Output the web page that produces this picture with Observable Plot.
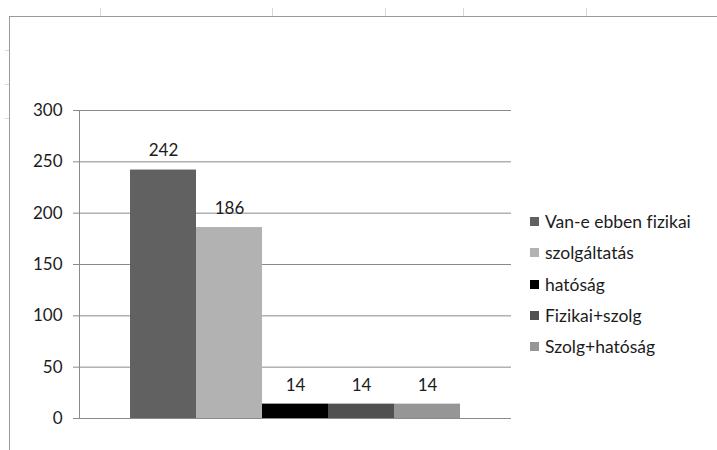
<!DOCTYPE html>
<html>
<head>
<meta charset="utf-8">
<script src="https://cdn.jsdelivr.net/npm/d3@7"></script>
<script src="https://cdn.jsdelivr.net/npm/@observablehq/plot@0.6"></script>
<style>
  html, body { margin: 0; padding: 0; background: #fff; }
  #wrap { position: relative; width: 717px; height: 450px; overflow: hidden; font-family: Lato, "Open Sans", sans-serif; font-variant-ligatures: none; }
  #frame { position: absolute; left: 9px; top: 16px; right: -2px; bottom: -2px; border-left: 1px solid #9a9a9a; border-top: 1px solid #9a9a9a; }
  .cell { position: absolute; top: 8px; width: 1px; height: 8px; background: #d4d8e4; }
  .rowm { position: absolute; left: 5px; width: 4px; height: 1px; background: #d4d8e4; }
  #legend { position: absolute; left: 530px; top: 206px; font-size: 17.5px; color: #1c1c1c; }
  #legend .item { height: 31.25px; display: flex; align-items: center; }
  #legend .sw { width: 9px; height: 9px; margin-right: 6px; }
  #chart { position: absolute; left: 0; top: 0; }
  #chart svg text { font-variant-ligatures: none; }
</style>
</head>
<body>
<div id="wrap">
  <div id="frame"></div>
  <div class="cell" style="left:100px"></div>
  <div class="cell" style="left:272px"></div>
  <div class="cell" style="left:385px"></div>
  <div class="cell" style="left:463px"></div>
  <div class="cell" style="left:586px"></div>
  <div class="rowm" style="top:50px"></div>
  <div class="rowm" style="top:84px"></div>
  <div class="rowm" style="top:118px"></div>
  <div id="chart"></div>
  <div id="legend"></div>
</div>
<script>
const categories = ["Van-e ebben fizikai", "szolgáltatás", "hatóság", "Fizikai+szolg", "Szolg+hatóság"];
const values = [242, 186, 14, 14, 14];
const colors = ["#616161", "#b2b2b2", "#000000", "#505050", "#969696"];
const yTicks = [0, 50, 100, 150, 200, 250, 300];

const data = categories.map((c, i) => ({category: c, value: values[i]}));

const chart = Plot.plot({
  width: 717,
  height: 450,
  marginLeft: 79,
  marginRight: 206,
  marginTop: 110,
  marginBottom: 32,
  style: {fontFamily: "Lato, 'Open Sans', sans-serif", fontSize: "17px", color: "#1c1c1c", background: "transparent"},
  x: {domain: categories, padding: 0, insetLeft: 51, insetRight: 51, axis: null},
  y: {domain: [0, 300], axis: null},
  color: {domain: categories, range: colors},
  marks: [
    Plot.ruleY(yTicks, {stroke: "#8a8a8a", strokeWidth: 1}),
    Plot.barY(data, {x: "category", y: "value", fill: "category"}),
    Plot.text(data, {x: "category", y: "value", text: d => String(d.value), dy: -19, fill: "#1c1c1c", fontSize: 17}),
    Plot.axisY({ticks: yTicks, tickSize: 6, tickPadding: 11, label: null, stroke: "#8a8a8a", tickFormat: d => String(d), fontSize: 17, fill: "#1c1c1c"}),
    Plot.frame({anchor: "left", stroke: "#8a8a8a"})
  ]
});
document.getElementById("chart").appendChild(chart);

const legend = document.getElementById("legend");
categories.forEach((c, i) => {
  const item = document.createElement("div");
  item.className = "item";
  const sw = document.createElement("span");
  sw.className = "sw";
  sw.style.background = colors[i];
  const label = document.createElement("span");
  label.textContent = c;
  item.appendChild(sw);
  item.appendChild(label);
  legend.appendChild(item);
});
</script>
</body>
</html>
